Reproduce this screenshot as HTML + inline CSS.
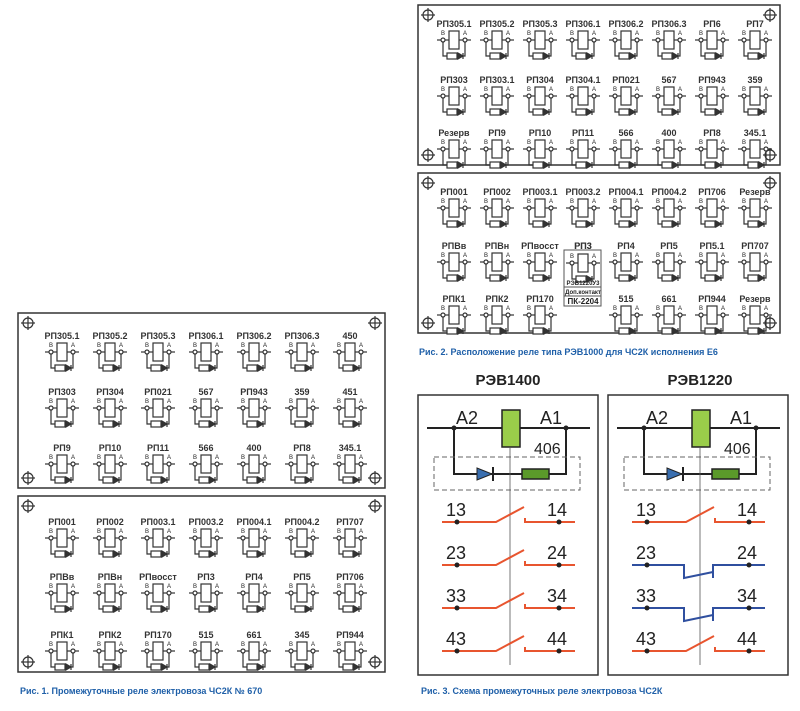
<!DOCTYPE html>
<html><head><meta charset="utf-8"><style>
html,body{margin:0;padding:0;background:#fff;}
svg{display:block;}
text{font-family:"Liberation Sans",sans-serif;}
</style></head><body>
<svg id="s" width="800" height="711" viewBox="0 0 800 711" xmlns="http://www.w3.org/2000/svg">
<defs>
<g id="rel" stroke="#333" stroke-width="1.2" fill="none">
<line x1="-17" y1="9" x2="-5" y2="9"/><line x1="5" y1="9" x2="17" y2="9"/>
<rect x="-5" y="0" width="10" height="18" fill="#fff"/>
<circle cx="-11" cy="9" r="2" fill="#fff"/><circle cx="11" cy="9" r="2" fill="#fff"/>
<polyline points="-11,11 -11,25 11,25 11,11"/>
<rect x="-7" y="22" width="10" height="6" fill="#fff"/>
<path d="M4,22 L4,28 L9,25 Z M9,22 L9,28" fill="#333"/>
</g>
<g id="cross" stroke="#333" stroke-width="1.2" fill="none"><circle r="5"/><line x1="-7" x2="7"/><line y1="-7" y2="7"/></g>
</defs>
<g id="cells"></g>
<g font-size="9" font-weight="bold" fill="#1e5fa8">
<text x="419" y="355">Рис. 2. Расположение реле типа РЭВ1000 для ЧС2К исполнения Е6</text>
<text x="20" y="694">Рис. 1. Промежуточные реле электровоза ЧС2К № 670</text>
<text x="421" y="694">Рис. 3. Схема промежуточных реле электровоза ЧС2К</text>
</g>
<g font-size="15" font-weight="bold" fill="#222" text-anchor="middle">
<text x="508" y="385">РЭВ1400</text><text x="700" y="385">РЭВ1220</text>
</g>
<g id="sch"></g>
</svg>
<script>
let h='';
function panel(x,y,w,hh){h+=`<rect x="${x}" y="${y}" width="${w}" height="${hh}" fill="none" stroke="#333" stroke-width="1.5"/>`;
[[x+10,y+10],[x+w-10,y+10],[x+10,y+hh-10],[x+w-10,y+hh-10]].forEach(p=>h+=`<use href="#cross" x="${p[0]}" y="${p[1]}"/>`);}
function grid(cols,rows,names){rows.forEach((ry,r)=>cols.forEach((cx,c)=>{const n=names[r][c];
if(n==='')return;
h+=`<text x="${cx}" y="${ry}" font-size="9" font-weight="bold" text-anchor="middle" fill="#333">${n}</text>`;
h+=`<use href="#rel" x="${cx}" y="${ry+4}"/>`;
h+=`<text x="${cx-11}" y="${ry+8}" font-size="6" text-anchor="middle" fill="#222">В</text><text x="${cx+11}" y="${ry+8}" font-size="6" text-anchor="middle" fill="#222">А</text>`;}));}
panel(418,5,362,160);panel(418,173,362,160);
panel(18,313,367,175);panel(18,496,367,176);
const tc=[454,497,540,583,626,669,712,755];
grid(tc,[27,83,136],[["РП305.1","РП305.2","РП305.3","РП306.1","РП306.2","РП306.3","РП6","РП7"],["РП303","РП303.1","РП304","РП304.1","РП021","567","РП943","359"],["Резерв","РП9","РП10","РП11","566","400","РП8","345.1"]]);
grid(tc,[195,249,302],[["РП001","РП002","РП003.1","РП003.2","РП004.1","РП004.2","РП706","Резерв"],["РПВв","РПВн","РПвосст","РП3","РП4","РП5","РП5.1","РП707"],["РПК1","РПК2","РП170","","515","661","РП944","Резерв"]]);
h+=`<rect x="564" y="250" width="37" height="56" fill="#fff" stroke="#555"/><line x1="564" y1="287" x2="601" y2="287" stroke="#555"/><line x1="564" y1="296" x2="601" y2="296" stroke="#555"/>`;
h+=`<text x="583" y="249" font-size="9" font-weight="bold" text-anchor="middle" fill="#333">РП3</text>`;
h+=`<use href="#rel" x="583" y="254"/><text x="572" y="258" font-size="6" text-anchor="middle" fill="#222">В</text><text x="594" y="258" font-size="6" text-anchor="middle" fill="#222">А</text>`;
h+=`<text x="583" y="285" font-size="6" font-weight="bold" text-anchor="middle" fill="#222">РЭВ1220У3</text><text x="583" y="294" font-size="6" font-weight="bold" text-anchor="middle" fill="#222">Доп.контакт</text><text x="583" y="304" font-size="8" font-weight="bold" text-anchor="middle" fill="#222">ПК-2204</text>`;
const lc=[62,110,158,206,254,302,350];
grid(lc,[339,395,451],[["РП305.1","РП305.2","РП305.3","РП306.1","РП306.2","РП306.3","450"],["РП303","РП304","РП021","567","РП943","359","451"],["РП9","РП10","РП11","566","400","РП8","345.1"]]);
grid(lc,[525,580,638],[["РП001","РП002","РП003.1","РП003.2","РП004.1","РП004.2","РП707"],["РПВв","РПВн","РПвосст","РП3","РП4","РП5","РП706"],["РПК1","РПК2","РП170","515","661","345","РП944"]]);
document.getElementById('cells').innerHTML=h;
let s='';
function sch(o,nc){
s+=`<rect x="${418+o}" y="395" width="180" height="280" fill="none" stroke="#333" stroke-width="1.5"/>`;
s+=`<line x1="${427+o}" y1="428" x2="${590+o}" y2="428" stroke="#222" stroke-width="2"/>`;
s+=`<polyline points="${454+o},428 ${454+o},474 ${566+o},474 ${566+o},428" fill="none" stroke="#222" stroke-width="2"/>`;
s+=`<circle cx="${454+o}" cy="428" r="2.5" fill="#222"/><circle cx="${566+o}" cy="428" r="2.5" fill="#222"/>`;
s+=`<rect x="${502+o}" y="410" width="18" height="37" fill="#9acd4a" stroke="#222" stroke-width="1.5"/>`;
s+=`<rect x="${434+o}" y="457" width="146" height="33" fill="none" stroke="#666" stroke-dasharray="5,3"/>`;
s+=`<path d="M${477+o},468 L${477+o},480 L${492+o},474 Z" fill="#3a6fb0" stroke="#222"/><line x1="${493+o}" y1="467" x2="${493+o}" y2="481" stroke="#222" stroke-width="2"/>`;
s+=`<rect x="${522+o}" y="469" width="27" height="10" fill="#5b9a2a" stroke="#222" stroke-width="1.5"/>`;
s+=`<line x1="${510+o}" y1="447" x2="${510+o}" y2="665" stroke="#555" stroke-width="0.8"/>`;
s+=`<text x="${456+o}" y="424" font-size="18" fill="#222">A2</text><text x="${540+o}" y="424" font-size="18" fill="#222">A1</text><text x="${534+o}" y="454" font-size="16" fill="#222">406</text>`;
const rows=[522,565,608,651],lab=[["13","14"],["23","24"],["33","34"],["43","44"]];
rows.forEach((y,i)=>{
const isnc=nc&&(i==1||i==2);const col=isnc?"#2f4f9f":"#e8552f";
s+=`<text x="${446+o}" y="${y-6}" font-size="18" fill="#222">${lab[i][0]}</text><text x="${547+o}" y="${y-6}" font-size="18" fill="#222">${lab[i][1]}</text>`;
if(isnc){s+=`<polyline points="${442+o},${y} ${494+o},${y} ${494+o},${y+13} ${523+o},${y+7}" fill="none" stroke="${col}" stroke-width="2"/>`;
s+=`<polyline points="${523+o},${y+13} ${523+o},${y} ${575+o},${y}" fill="none" stroke="${col}" stroke-width="2"/>`;}
else{s+=`<polyline points="${442+o},${y} ${496+o},${y} ${524+o},${y-15}" fill="none" stroke="${col}" stroke-width="2"/>`;
s+=`<polyline points="${525+o},${y-4} ${525+o},${y} ${575+o},${y}" fill="none" stroke="${col}" stroke-width="2"/>`;}
s+=`<circle cx="${457+o}" cy="${y}" r="2.5" fill="#222"/><circle cx="${559+o}" cy="${y}" r="2.5" fill="#222"/>`;
});}
sch(0,false);sch(190,true);
document.getElementById('sch').innerHTML=s;
</script>
</body></html>
